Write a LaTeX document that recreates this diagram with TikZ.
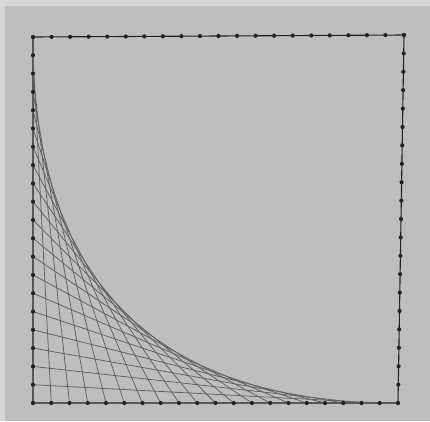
\documentclass[tikz,border=0pt]{standalone}
\usetikzlibrary{calc}
\definecolor{paper}{RGB}{192,190,188}
\definecolor{paperlight}{RGB}{216,215,213}
\definecolor{ink}{RGB}{35,35,35}
\definecolor{thread}{RGB}{95,95,95}
\tikzset{
  frameline/.style={draw=ink, line width=1.1pt},
  stringline/.style={draw=thread, line width=0.75pt},
  pin/.style={circle, fill=ink, inner sep=0pt, minimum size=4.2pt},
}
\begin{document}
\begin{tikzpicture}[x=1pt,y=-1pt]
\useasboundingbox (0,0) rectangle (430,421);
\fill[paperlight] (0,0) rectangle (430,421);
\fill[paper] (5,6) rectangle (430,421);
\coordinate (TL) at (33,37);
\coordinate (TR) at (404,35);
\coordinate (BR) at (398,403);
\coordinate (BL) at (33,403);
\draw[frameline] (TL) -- (TR) -- (BR) -- (BL) -- cycle;
\foreach \j in {0,...,20}{
  \coordinate (L\j) at ($(TL)!\j/20!(BL)$);
  \coordinate (B\j) at ($(BL)!\j/20!(BR)$);
  \coordinate (T\j) at ($(TL)!\j/20!(TR)$);
  \coordinate (R\j) at ($(TR)!\j/20!(BR)$);
}
\foreach \k in {1,...,19}{
  \draw[stringline] (L\k) -- (B\k);
}
\foreach \j in {0,...,20}{
  \node[pin] (pl\j) at (L\j) {};
  \node[pin] (pb\j) at (B\j) {};
  \node[pin] (pt\j) at (T\j) {};
  \node[pin] (pr\j) at (R\j) {};
}
\end{tikzpicture}
\end{document}
